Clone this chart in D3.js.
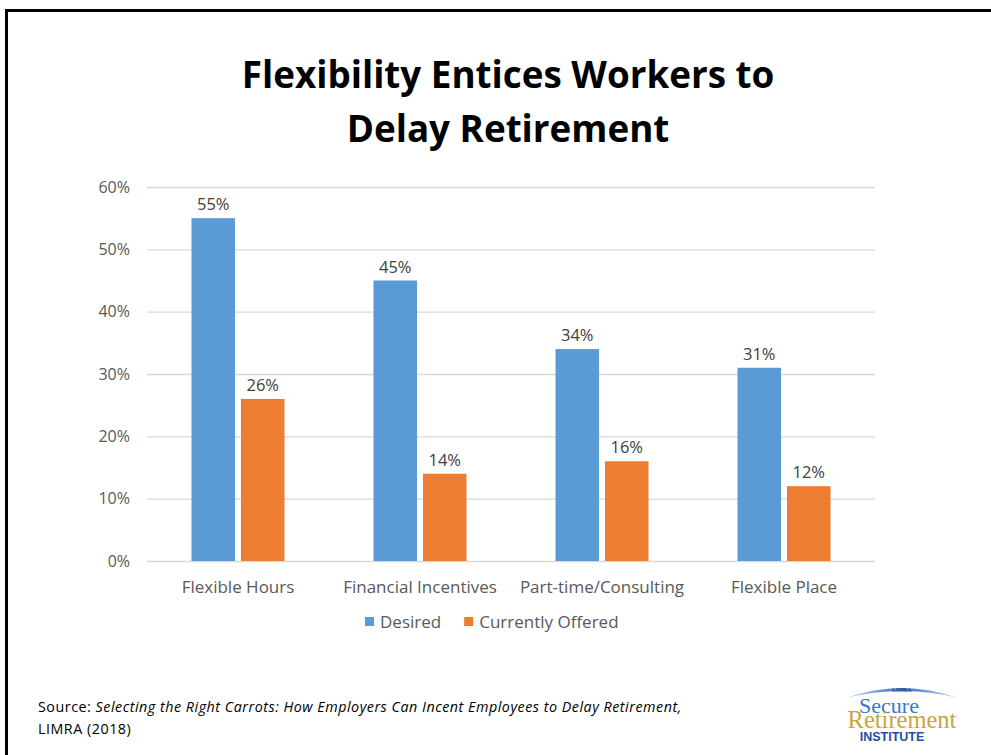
<!DOCTYPE html>
<html>
<head>
<meta charset="utf-8">
<script src="https://d3js.org/d3.v7.min.js"></script>
<style>
  html, body { margin: 0; padding: 0; background: #fff; }
  svg { display: block; }
</style>
</head>
<body>
<script>
// Chart data
const categories = ["Flexible Hours", "Financial Incentives", "Part-time/Consulting", "Flexible Place"];
const seriesNames = ["Desired", "Currently Offered"];
const desired = [55, 45, 34, 31];
const offered = [26, 14, 16, 12];
const yTicks = [0, 10, 20, 30, 40, 50, 60];
const titleLines = ["Flexibility Entices Workers to", "Delay Retirement"];

const W = 991, H = 755;
const font = "'Open Sans', Lato, sans-serif";
const colors = ["#5B9BD5", "#ED7D31"];
const textGray = "#595959";
const labelGray = "#404040";

const svg = d3.select("body").append("svg").attr("width", W).attr("height", H);
svg.append("rect").attr("width", W).attr("height", H).attr("fill", "#fff");

// slide frame
svg.append("path")
  .attr("d", `M6.5,${H + 5} V10.5 H${W + 5}`)
  .attr("fill", "none").attr("stroke", "#000").attr("stroke-width", 3);

// title
const title = svg.append("text")
  .attr("text-anchor", "middle")
  .attr("font-family", font).attr("font-weight", "bold")
  .attr("font-size", 36.8).attr("fill", "#000");
title.selectAll("tspan").data(titleLines).join("tspan")
  .attr("x", 508).attr("y", (d, i) => 88 + i * 54).text(d => d);

// plot area
const plot = { left: 147, right: 875, top: 187, bottom: 561 };
const x0 = d3.scaleBand().domain(categories).range([plot.left, plot.right]);
const x1 = d3.scaleBand().domain(seriesNames).range([0, 93]).paddingInner(0.12);
const y = d3.scaleLinear().domain([0, 60]).range([plot.bottom, plot.top]);

// gridlines and y tick labels
const yAxis = d3.axisLeft(y).tickValues(yTicks).tickFormat(d => d + "%")
  .tickSize(-(plot.right - plot.left)).tickPadding(17);
const gy = svg.append("g").attr("transform", `translate(${plot.left},0)`).call(yAxis);
gy.select(".domain").remove();
gy.selectAll(".tick line").attr("stroke", "#D9D9D9").attr("stroke-width", 1.3);
gy.selectAll(".tick text").attr("font-family", font).attr("font-size", 16)
  .attr("fill", textGray);

// x axis category labels
const xAxis = d3.axisBottom(x0).tickSize(0).tickPadding(20);
const gx = svg.append("g").attr("transform", `translate(0,${plot.bottom})`).call(xAxis);
gx.select(".domain").remove();
gx.selectAll(".tick text").attr("font-family", font).attr("font-size", 17)
  .attr("fill", textGray);

// bars
const rows = categories.map((c, i) => ({ cat: c, vals: [desired[i], offered[i]] }));
const groups = svg.append("g").selectAll("g").data(rows).join("g")
  .attr("transform", d => `translate(${x0(d.cat) + x0.bandwidth() / 2 - 46.5},0)`);
groups.selectAll("rect").data(d => d.vals.map((v, j) => ({ v, s: seriesNames[j], j })))
  .join("rect")
  .attr("x", d => x1(d.s)).attr("width", x1.bandwidth())
  .attr("y", d => y(d.v)).attr("height", d => y(0) - y(d.v))
  .attr("fill", d => colors[d.j]);
groups.selectAll("text").data(d => d.vals.map((v, j) => ({ v, s: seriesNames[j] })))
  .join("text")
  .attr("x", d => x1(d.s) + x1.bandwidth() / 2).attr("y", d => y(d.v) - 8)
  .attr("text-anchor", "middle").attr("font-family", font).attr("font-size", 16.5)
  .attr("fill", labelGray).text(d => d.v + "%");

// legend
const legend = svg.append("g");
let lx = 365;
seriesNames.forEach((name, i) => {
  legend.append("rect").attr("x", lx).attr("y", 617).attr("width", 9).attr("height", 9)
    .attr("fill", colors[i]);
  const t = legend.append("text").attr("x", lx + 15).attr("y", 628)
    .attr("font-family", font).attr("font-size", 17).attr("fill", textGray).text(name);
  lx += 15 + t.node().getComputedTextLength() + 23;
});

// source note
const src = svg.append("text").attr("font-family", font).attr("font-size", 14.3)
  .attr("letter-spacing", 0.52).attr("fill", "#000");
const l1 = src.append("tspan").attr("x", 38).attr("y", 712);
l1.append("tspan").text("Source: ");
l1.append("tspan").attr("font-style", "italic")
  .text("Selecting the Right Carrots:  How Employers Can Incent Employees to Delay Retirement,");
src.append("tspan").attr("x", 38).attr("y", 734).text("LIMRA (2018)");

// institute logo
const logo = svg.append("g");
const arcGrad = svg.append("defs").append("linearGradient").attr("id", "arcGrad");
arcGrad.append("stop").attr("offset", "0%").attr("stop-color", "#cfe0f5");
arcGrad.append("stop").attr("offset", "50%").attr("stop-color", "#2a6fc9");
arcGrad.append("stop").attr("offset", "100%").attr("stop-color", "#cfe0f5");
logo.append("path")
  .attr("d", "M846,698 Q902,678 958,698 Q902,684 846,698 Z")
  .attr("fill", "url(#arcGrad)");
const mark = logo.append("text").attr("text-anchor", "middle");
mark.append("tspan").attr("x", 902).attr("y", 692)
  .attr("font-family", "'Liberation Serif', serif").attr("font-size", 6)
  .attr("fill", "#1f3f7a").text("LIMRA");
mark.append("tspan").attr("x", 889).attr("y", 713)
  .attr("font-family", "'Liberation Serif', serif").attr("font-size", 22)
  .attr("fill", "#3a78c6").text("Secure");
mark.append("tspan").attr("x", 902).attr("y", 728)
  .attr("font-family", "'Liberation Serif', serif").attr("font-size", 24.5)
  .attr("fill", "#c9a53c").text("Retirement");
mark.append("tspan").attr("x", 892).attr("y", 741)
  .attr("font-family", "'Liberation Sans', sans-serif").attr("font-weight", "bold")
  .attr("font-size", 12.5).attr("fill", "#1f4f9c").text("INSTITUTE");
</script>
</body>
</html>
